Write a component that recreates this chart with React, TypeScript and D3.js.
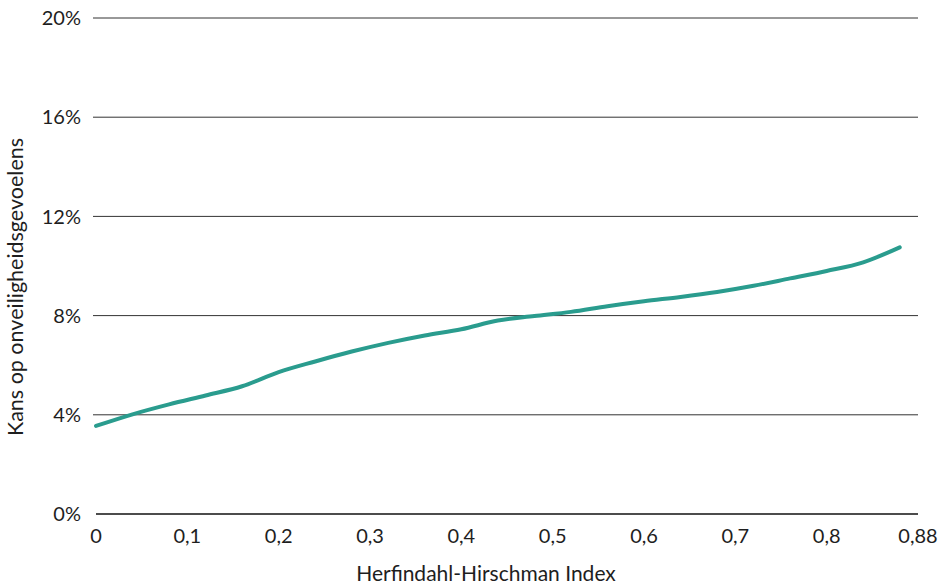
import React from "react";
import * as d3 from "d3";

const hhi = [0, 0.04, 0.08, 0.12, 0.16, 0.2, 0.24, 0.28, 0.32, 0.36, 0.4, 0.44, 0.48, 0.52, 0.56, 0.6, 0.64, 0.68, 0.72, 0.76, 0.8, 0.84, 0.88];
const kans = [3.55, 4.02, 4.42, 4.78, 5.15, 5.72, 6.15, 6.55, 6.9, 7.2, 7.45, 7.8, 7.98, 8.15, 8.38, 8.58, 8.75, 8.95, 9.2, 9.5, 9.8, 10.15, 10.75];
const xTicks = [0, 0.1, 0.2, 0.3, 0.4, 0.5, 0.6, 0.7, 0.8, 0.9];
const xTickLabels = ["0", "0,1", "0,2", "0,3", "0,4", "0,5", "0,6", "0,7", "0,8", "0,88"];
const yTicks = [0, 4, 8, 12, 16, 20];
const yTickLabels = ["0%", "4%", "8%", "12%", "16%", "20%"];

const W = 947, H = 585;
const FONT = "Lato, 'Open Sans', sans-serif";

export default function App() {
  const x = d3.scaleLinear().domain([0, 0.9]).range([96, 918]);
  const y = d3.scaleLinear().domain([0, 20]).range([514, 18]);
  const line = d3.line<number>()
    .x((_, i) => x(hhi[i]))
    .y((d) => y(d))
    .curve(d3.curveMonotoneX);
  return (
    <svg width={W} height={H} style={{ position: "absolute", left: 0, top: 0, display: "block" }} fontFamily={FONT}>
      <rect width={W} height={H} fill="#fff" />
      {yTicks.map((t, i) => (
        <g key={t}>
          <line x1={t === 0 ? 96 : 93} x2={918} y1={y(t)} y2={y(t)} stroke={t === 0 ? "#111" : "#333"} strokeWidth={t === 0 ? 1.6 : 1} />
          <text x={81} y={y(t)} dy="0.36em" textAnchor="end" fontSize={20} fill="#1e1e1e">{yTickLabels[i]}</text>
        </g>
      ))}
      {xTicks.map((t, i) => (
        <text key={t} x={x(t)} y={543} textAnchor="middle" fontSize={20} fill="#1e1e1e">{xTickLabels[i]}</text>
      ))}
      <path d={line(kans) || ""} fill="none" stroke="#2A9C8E" strokeWidth={4} strokeLinecap="round" />
      <text x={486} y={581} textAnchor="middle" fontSize={21} fill="#1e1e1e">Herfindahl-Hirschman Index</text>
      <text transform={`translate(23,${287}) rotate(-90)`} textAnchor="middle" fontSize={21.5} fill="#1e1e1e">Kans op onveiligheidsgevoelens</text>
    </svg>
  );
}
